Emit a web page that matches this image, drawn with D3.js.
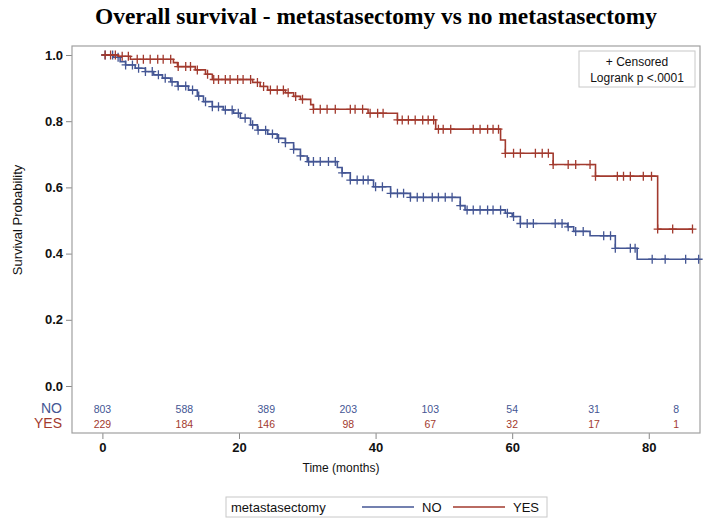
<!DOCTYPE html>
<html><head><meta charset="utf-8">
<script src="https://cdn.jsdelivr.net/npm/d3@7"></script>
<style>body{margin:0;background:#fff}svg{display:block}</style>
</head><body>
<script>
// ---- data ----
const groups = ["NO", "YES"];
const colors = ["#445694", "#A23A2E"];
// step events: time (months) and survival after the step
const noTimes = [0, 1.6, 2.6, 3.4, 4.8, 6.3, 7.5, 8.8, 10.0, 11.0, 12.6, 13.9, 14.8, 16.1, 17.7, 19.2, 20.2, 21.7, 22.7, 24.2, 25.6, 26.8, 28.0, 29.0, 30.0, 34.4, 35.1, 36.3, 39.7, 42.2, 45.1, 52.4, 53.1, 59.0, 60.0, 61.2, 68.1, 69.0, 71.4, 75.1, 78.3, 87.3];
const noSurv  = [1, 0.993, 0.98, 0.97, 0.96, 0.95, 0.94, 0.93, 0.919, 0.906, 0.894, 0.876, 0.859, 0.844, 0.834, 0.824, 0.809, 0.789, 0.773, 0.761, 0.748, 0.735, 0.715, 0.695, 0.678, 0.66, 0.644, 0.622, 0.602, 0.582, 0.57, 0.545, 0.532, 0.522, 0.512, 0.491, 0.481, 0.467, 0.454, 0.416, 0.383, 0.383];
const yesTimes = [0, 2.3, 4.1, 10.4, 11.0, 13.6, 15.1, 16.1, 22.0, 23.1, 24.2, 26.8, 28.0, 29.0, 30.5, 30.9, 38.9, 43.2, 48.8, 58.3, 59.0, 66.0, 72.2, 81.3, 86.5];
const yesSurv  = [1, 0.996, 0.987, 0.977, 0.965, 0.955, 0.942, 0.926, 0.917, 0.905, 0.894, 0.886, 0.875, 0.866, 0.85, 0.836, 0.824, 0.804, 0.776, 0.743, 0.703, 0.669, 0.634, 0.474, 0.474];
// censoring times
const noCensor = [0.4, 1.5, 2.3, 3.4, 4.4, 5.3, 6.3, 7.3, 8.2, 9.2, 10.2, 11.1, 12.2, 13.2, 14.1, 15.1, 16.1, 17.0, 18.0, 19.0, 19.9, 20.9, 22.0, 22.8, 23.9, 24.9, 25.8, 26.8, 28.0, 29.0, 30.2, 30.9, 31.9, 33.1, 34.1, 35.1, 36.3, 37.3, 38.2, 38.9, 40.0, 41.0, 42.2, 43.2, 44.1, 45.1, 46.1, 47.0, 48.3, 49.2, 50.2, 51.2, 52.4, 53.4, 54.3, 55.3, 56.4, 57.2, 58.3, 59.3, 60.2, 61.2, 62.2, 63.1, 66.3, 67.3, 68.2, 69.3, 70.4, 73.4, 74.4, 75.1, 77.3, 78.0, 80.5, 82.4, 85.4, 87.3];
const yesCensor = [0.4, 1.2, 1.9, 2.9, 3.8, 5.1, 6.0, 7.0, 8.1, 8.9, 10.0, 11.1, 12.2, 12.9, 13.9, 15.4, 16.3, 17.0, 18.0, 18.7, 19.8, 20.6, 21.7, 22.7, 23.6, 24.6, 25.6, 26.5, 27.2, 28.3, 29.3, 30.9, 31.9, 32.9, 34.1, 36.3, 37.0, 38.1, 39.2, 40.3, 41.1, 43.2, 43.9, 44.8, 45.8, 46.9, 47.7, 48.5, 49.2, 49.9, 51.0, 54.3, 55.3, 56.4, 57.2, 58.0, 59.0, 60.2, 61.2, 63.4, 64.4, 65.3, 66.0, 68.2, 69.3, 71.4, 72.2, 75.4, 76.3, 77.3, 79.2, 80.4, 81.3, 83.5, 86.4];
// numbers at risk
const riskTimes = [0, 12, 24, 36, 48, 60, 72, 84];
const noRisk  = [803, 588, 389, 203, 103, 54, 31, 8];
const yesRisk = [229, 184, 146, 98, 67, 32, 17, 1];
const yTicks = [0, 0.2, 0.4, 0.6, 0.8, 1.0];
const xTicks = [0, 20, 40, 60, 80];

// ---- drawing ----
const W = 710, H = 525;
const svg = d3.select("body").append("svg").attr("width", W).attr("height", H);
const frame = {l: 72, t: 46, r: 700, b: 433};
const x = d3.scaleLinear().domain([-4.45, 87.5]).range([frame.l, frame.r]);
const y = d3.scaleLinear().domain([0, 1]).range([386, 55]);
const sans = "'Liberation Sans', Arial, sans-serif";

svg.append("text").attr("x", 95).attr("y", 24)
  .attr("font-family", "'Liberation Serif','Times New Roman',serif").attr("font-weight", "bold")
  .attr("font-size", 23).attr("textLength", 562).attr("lengthAdjust", "spacingAndGlyphs")
  .text("Overall survival - metastasectomy vs no metastasectomy");

// axes
const ya = svg.append("g").attr("transform", `translate(${frame.l},0)`)
  .call(d3.axisLeft(y).tickValues(yTicks).tickFormat(d3.format(".1f")).tickSize(6).tickPadding(3));
const xa = svg.append("g").attr("transform", `translate(0,${frame.b})`)
  .call(d3.axisBottom(x).tickValues(xTicks).tickSize(6).tickPadding(4));
[ya, xa].forEach(g => {
  g.select(".domain").remove();
  g.selectAll(".tick line").attr("stroke", "#888");
  g.selectAll(".tick text").attr("font-family", sans).attr("font-size", 13).attr("font-weight", "bold").attr("fill", "#111");
});

svg.append("rect").attr("x", frame.l).attr("y", frame.t).attr("width", frame.r - frame.l).attr("height", frame.b - frame.t)
  .attr("fill", "none").attr("stroke", "#a0a0a0").attr("stroke-width", 1.2);

svg.append("text").attr("transform", "translate(22,220) rotate(-90)").attr("text-anchor", "middle")
  .attr("font-family", sans).attr("font-size", 13).attr("fill", "#111").text("Survival Probability");
svg.append("text").attr("x", 341).attr("y", 472).attr("text-anchor", "middle")
  .attr("font-family", sans).attr("font-size", 12).attr("fill", "#111").text("Time (months)");

// curves
const series = [
  {times: noTimes, surv: noSurv, cens: noCensor, color: colors[0]},
  {times: yesTimes, surv: yesSurv, cens: yesCensor, color: colors[1]}
];
const line = d3.line().x(d => x(d[0])).y(d => y(d[1])).curve(d3.curveStepAfter);
series.forEach(s => {
  const pts = s.times.map((t, i) => [t, s.surv[i]]);
  svg.append("path").attr("d", line(pts)).attr("fill", "none").attr("stroke", s.color).attr("stroke-width", 1.6);
  const at = t => { let v = 1; s.times.forEach((tt, i) => { if (tt <= t) v = s.surv[i]; }); return v; };
  svg.append("g").selectAll("path").data(s.cens).join("path")
    .attr("d", t => { const cx = x(t), cy = y(at(t)); return `M${cx - 4},${cy}H${cx + 4}M${cx},${cy - 4.5}V${cy + 4.5}`; })
    .attr("stroke", s.color).attr("stroke-width", 1.3).attr("fill", "none");
});

// at-risk table
[[noRisk, 413, colors[0], "NO"], [yesRisk, 428, colors[1], "YES"]].forEach(([vals, yy, c, lab]) => {
  svg.append("text").attr("x", 62).attr("y", yy).attr("text-anchor", "end")
    .attr("font-family", sans).attr("font-size", 14).attr("fill", c).text(lab);
  svg.append("g").selectAll("text").data(vals).join("text")
    .attr("x", (d, i) => x(riskTimes[i])).attr("y", yy).attr("text-anchor", "middle")
    .attr("font-family", sans).attr("font-size", 10.5).attr("fill", c).text(d => d);
});

// inset legend
svg.append("rect").attr("x", 579).attr("y", 51).attr("width", 116).attr("height", 36)
  .attr("fill", "#fff").attr("stroke", "#c8c8c8");
svg.append("text").attr("x", 637).attr("y", 66).attr("text-anchor", "middle").attr("font-family", sans)
  .attr("font-size", 12).attr("fill", "#111").text("+ Censored");
svg.append("text").attr("x", 637).attr("y", 82).attr("text-anchor", "middle").attr("font-family", sans)
  .attr("font-size", 12).attr("fill", "#111").text("Logrank p <.0001");

// bottom legend
svg.append("rect").attr("x", 226).attr("y", 497).attr("width", 321).attr("height", 20)
  .attr("fill", "#fff").attr("stroke", "#c8c8c8");
svg.append("text").attr("x", 231).attr("y", 512).attr("font-family", sans).attr("font-size", 13).attr("fill", "#111").text("metastasectomy");
const lx = [362, 453], tx = [422, 513];
groups.forEach((g, i) => {
  svg.append("line").attr("x1", lx[i]).attr("x2", lx[i] + 52).attr("y1", 507).attr("y2", 507).attr("stroke", colors[i]).attr("stroke-width", 1.3);
  svg.append("text").attr("x", tx[i]).attr("y", 512).attr("font-family", sans).attr("font-size", 13).attr("fill", "#111").text(g);
});
</script>
</body></html>
